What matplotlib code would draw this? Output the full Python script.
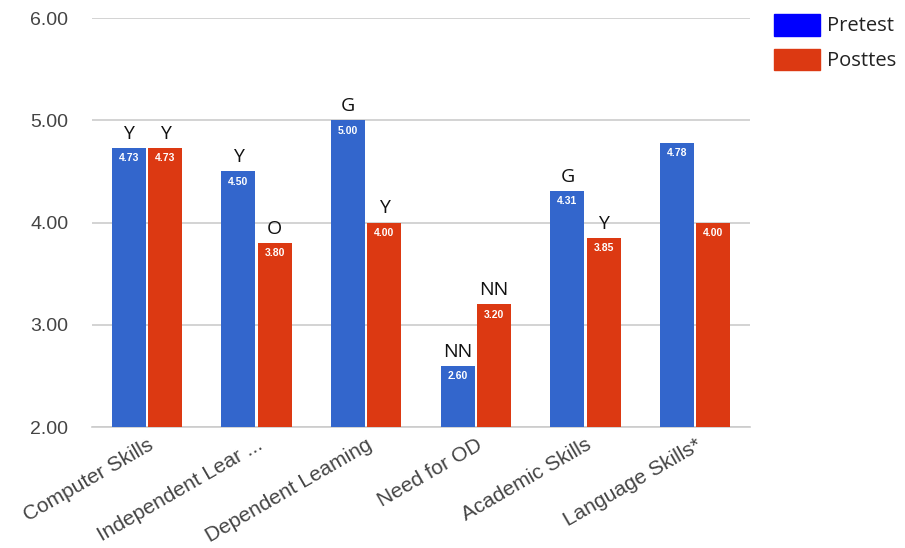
import numpy as np
import matplotlib.pyplot as plt
from matplotlib.patches import Patch

categories = ["Computer Skills", "Independent Lear ...", "Dependent Leaming",
              "Need for OD", "Academic Skills", "Language Skills*"]
pretest = [4.73, 4.50, 5.00, 2.60, 4.31, 4.78]
posttest = [4.73, 3.80, 4.00, 3.20, 3.85, 4.00]
pre_marks = ["Y", "Y", "G", "NN", "G", ""]
post_marks = ["Y", "O", "Y", "NN", "Y", ""]

blue = "#3366CC"
red = "#DC3912"

fig = plt.figure(figsize=(9.05, 5.48), dpi=100)
ax = fig.add_axes([0.1017, 0.2208, 0.727, 0.7462])

x = np.arange(len(categories))
w = 0.31
gap = 0.01
b1 = ax.bar(x - w / 2 - gap, pretest, w, color=blue, zorder=3)
b2 = ax.bar(x + w / 2 + gap, posttest, w, color=red, zorder=3)

for bars, vals, marks in ((b1, pretest, pre_marks), (b2, posttest, post_marks)):
    for bar, v, m in zip(bars, vals, marks):
        cx = bar.get_x() + bar.get_width() / 2
        ax.text(cx, v - 0.1, f"{v:.2f}", ha="center", va="center",
                color="white", fontsize=7.5, fontweight="bold", zorder=4,
                family="Liberation Sans")
        if m:
            ax.text(cx, v + 0.05, m, ha="center", va="bottom",
                    color="#111111", fontsize=14, zorder=4, family="Open Sans")

ax.set_xlim(-0.5, len(categories) - 0.5)
ax.set_ylim(2, 6)
ax.set_yticks([2, 3, 4, 5, 6])
ax.set_yticklabels([f"{t:.2f}" for t in [2, 3, 4, 5, 6]], family="Liberation Sans")
ax.yaxis.grid(True, color="#cccccc", linewidth=1.2, zorder=0)
ax.set_xticks(x)
ax.set_xticklabels(categories, rotation=30, ha="right", rotation_mode="anchor",
                   family="Liberation Sans", fontsize=15)
ax.tick_params(axis="both", length=0, labelcolor="#444444")
ax.tick_params(axis="y", pad=17, labelsize=14)
ax.tick_params(axis="x", pad=6)
for s in ["top", "right", "left"]:
    ax.spines[s].set_visible(False)
ax.spines["bottom"].set_color("#cccccc")
ax.spines["bottom"].set_linewidth(1.2)

handles = [Patch(color="#0000FF", label="Pretest"),
           Patch(color=red, label="Posttes")]
fig.legend(handles=handles, loc="upper left", bbox_to_anchor=(0.835, 1.008),
           frameon=False, handlelength=2.3, handleheight=1.3,
           labelspacing=0.6, handletextpad=0.35, labelcolor="#222222",
           prop={"family": "Open Sans", "size": 14.5})

fig.savefig("out.png", dpi=100)
